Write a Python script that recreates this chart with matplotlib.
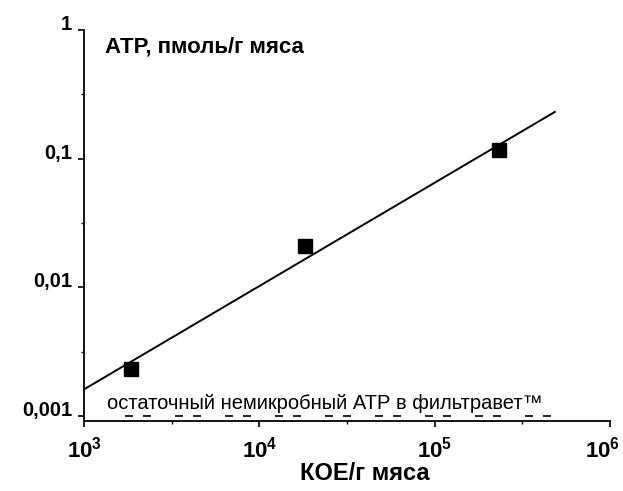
import numpy as np
import matplotlib
matplotlib.use("Agg")
import matplotlib.pyplot as plt
import matplotlib.transforms as mtransforms
from matplotlib.ticker import FixedLocator, NullFormatter

plt.rcParams['font.family'] = ['Liberation Sans', 'DejaVu Sans']
plt.rcParams['mathtext.fontset'] = 'custom'
plt.rcParams['mathtext.rm'] = 'Liberation Sans:bold'
plt.rcParams['mathtext.it'] = 'Liberation Sans:bold'
plt.rcParams['mathtext.bf'] = 'Liberation Sans:bold'

# measured points
cfu = [1850, 18100, 233000]
atp = [0.00232, 0.0211, 0.116]

# regression line ends
fit_x = [1000, 485000]
fit_y = [0.00162, 0.23]

# residual non-microbial ATP level
resid_x = [1710, 560000]
resid_y = [0.001, 0.001]

xticks = [1e3, 1e4, 1e5, 1e6]
xlabels = [r'$\mathbf{10^3}$', r'$\mathbf{10^4}$', r'$\mathbf{10^5}$', r'$\mathbf{10^6}$']
yticks = [0.001, 0.01, 0.1, 1]
ylabels = ['0,001', '0,01', '0,1', '1']

fig = plt.figure(figsize=(6.23, 4.91), dpi=100)
ax = fig.add_axes([0.135, 0.1426, 0.844, 0.797])

ax.plot(fit_x, fit_y, color='black', lw=1.4)
ax.plot(cfu, atp, 's', color='black', ms=9.5)
ax.plot(resid_x, resid_y, color='black', lw=1.2, dashes=(4.8, 6, 4.8, 14.4))

ax.set_xscale('log')
ax.set_yscale('log')
ax.set_xlim(1e3, 1e6)
ax.set_ylim(0.00092, 1)

ax.xaxis.set_major_locator(FixedLocator(xticks))
ax.set_xticklabels(xlabels)
ax.yaxis.set_major_locator(FixedLocator(yticks))
ax.set_yticklabels(ylabels)
ax.xaxis.set_minor_locator(FixedLocator([10 ** (k + 0.5) for k in range(3, 6)]))
ax.yaxis.set_minor_locator(FixedLocator([10 ** (k + 0.5) for k in range(-3, 0)]))
ax.xaxis.set_minor_formatter(NullFormatter())
ax.yaxis.set_minor_formatter(NullFormatter())

for s in ['top', 'right']:
    ax.spines[s].set_visible(False)
for s in ['left', 'bottom']:
    ax.spines[s].set_linewidth(1.3)

ax.tick_params(which='major', direction='out', length=4.5, width=1.2)
ax.tick_params(which='minor', direction='out', length=2.5, width=1.0)
ax.tick_params(axis='x', which='major', pad=7, labelsize=16)
ax.tick_params(axis='y', which='major', pad=4, labelsize=14.5)
for lab in ax.get_yticklabels():
    lab.set_fontweight('bold')
    lab.set_va('baseline')

# last x label sits at the right edge, nudge it in a little
last = ax.get_xticklabels()[-1]
last.set_transform(last.get_transform() + mtransforms.ScaledTranslation(-5 / 72, 0, fig.dpi_scale_trans))

ax.text(0.04, 0.956, 'АТР, пмоль/г мяса', transform=ax.transAxes, fontsize=16,
        fontweight='bold', va='center', ha='left')
ax.text(0.044, 0.045, 'остаточный немикробный АТР в фильтравет™', transform=ax.transAxes,
        fontsize=14.5, va='center', ha='left')

ax.set_xlabel('КОЕ/г мяса', fontsize=17, fontweight='bold')
ax.xaxis.set_label_coords(0.534, -0.105)

fig.savefig('out.png', dpi=100)
